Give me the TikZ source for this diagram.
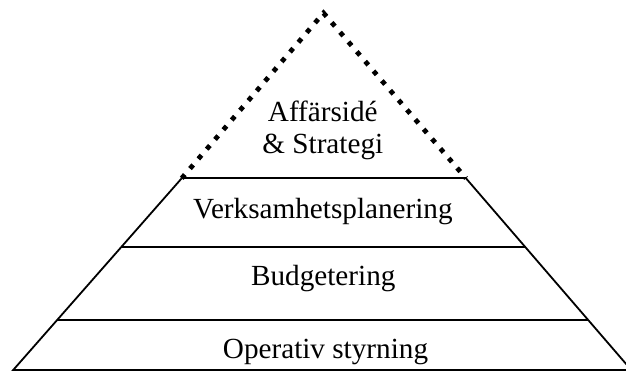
\documentclass[tikz,border=0pt]{standalone}
\usepackage{fontspec}
\setmainfont{Liberation Serif}
\begin{document}
\begin{tikzpicture}[x=1pt,y=-1pt,
  solidline/.style={line width=1.8pt,line cap=butt},
  dotline/.style={line width=4.8pt,line cap=butt,dash pattern=on 4.8pt off 8pt},
  lbl/.style={anchor=base,inner sep=0pt,font=\fontsize{29.2}{34}\selectfont}]
\useasboundingbox (0,0) rectangle (626,372);
\clip (0,0) rectangle (626,372);
% corners
\coordinate (apex) at (323.5,13);
\coordinate (l1) at (181.7,178.3);
\coordinate (r1) at (466,178.3);
\coordinate (l2) at (121.5,246.7);
\coordinate (r2) at (525,246.7);
\coordinate (l3) at (57,320);
\coordinate (r3) at (588.2,320);
\coordinate (l4) at (13.2,370);
\coordinate (r4) at (631.3,370);
% dotted top
\draw[dotline] (l1) -- (apex) -- (r1);
% solid frame
\draw[solidline] (l1) -- (l4) -- (r4) -- (r1);
\draw[solidline] (l1) -- (r1);
\draw[solidline] (l2) -- (r2);
\draw[solidline] (l3) -- (r3);
% labels
\node[lbl] (t1) at (322.8,121.7) {Affärsidé};
\node[lbl] (t2) at (322.8,153.5) {\& Strategi};
\node[lbl] (t3) at (322.9,218.3) {Verksamhetsplanering};
\node[lbl] (t4) at (323.3,285) {Budgetering};
\node[lbl] (t5) at (325.5,358.3) {Operativ styrning};
\end{tikzpicture}
\end{document}
